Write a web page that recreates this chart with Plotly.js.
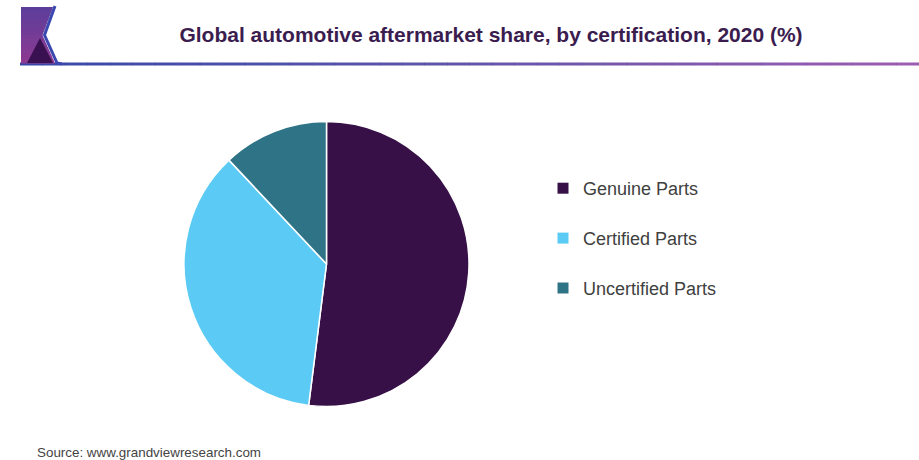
<!DOCTYPE html>
<html>
<head>
<meta charset="utf-8">
<script src="https://cdn.plot.ly/plotly-3.0.1.min.js"></script>
<style>html,body{margin:0;padding:0;background:#fff;}#chart{width:919px;height:460px;}</style>
</head>
<body>
<div id="chart"></div>
<script>
// ---- data ----
var categories = ["Genuine Parts", "Certified Parts", "Uncertified Parts"];
var shares = [52, 36, 12];
var sliceColors = ["#361046", "#5bcbf6", "#2e7486"];
var chartTitle = "Global automotive aftermarket share, by certification, 2020 (%)";
var sourceText = "Source: www.grandviewresearch.com";

var W = 919, H = 460;
function px(x){ return x / W; }
function py(y){ return 1 - y / H; }
function hex2rgb(h){ return [parseInt(h.substr(1,2),16),parseInt(h.substr(3,2),16),parseInt(h.substr(5,2),16)]; }
function mix(a,b,t){ var A=hex2rgb(a),B=hex2rgb(b); return 'rgb('+A.map(function(v,i){return Math.round(v+(B[i]-v)*t);}).join(',')+')'; }

var shapes = [];
// header gradient line
var stops = [[20,"#3848a8"],[420,"#5c54a8"],[919,"#9c5cb2"]];
var nSeg = 40;
for (var i=0;i<nSeg;i++){
  var x0 = 20 + (919-20)*i/nSeg, x1 = 20 + (919-20)*(i+1)/nSeg, xm=(x0+x1)/2;
  var c;
  if (xm < stops[1][0]) c = mix(stops[0][1], stops[1][1], (xm-stops[0][0])/(stops[1][0]-stops[0][0]));
  else c = mix(stops[1][1], stops[2][1], (xm-stops[1][0])/(stops[2][0]-stops[1][0]));
  shapes.push({type:'rect', xref:'paper', yref:'paper', x0:px(x0), x1:px(x1+0.5), y0:py(65.5), y1:py(62.5), line:{width:0}, fillcolor:c, layer:'above'});
}
// logo purple gradient strips
function rightEdge(y){ if (y<=35) return 53 + (42.5-53)*(y-7)/(35-7); return 42.5 + (55-42.5)*(y-35)/(63-35); }
var nStrip = 14;
for (var k=0;k<nStrip;k++){
  var ya = 7 + (63-7)*k/nStrip, yb = 7 + (63-7)*(k+1)/nStrip;
  var col = mix("#5a3e9a", "#8e3a92", (k+0.5)/nStrip);
  var path = 'M'+px(21)+','+py(ya)+' L'+px(rightEdge(ya))+','+py(ya)+' L'+(ya<35&&yb>35?px(42.5)+','+py(35)+' L':'')+px(rightEdge(yb))+','+py(yb+0.4)+' L'+px(21)+','+py(yb+0.4)+' Z';
  shapes.push({type:'path', xref:'paper', yref:'paper', path:path, fillcolor:col, line:{width:0}, layer:'above'});
}
// dark triangle
shapes.push({type:'path', xref:'paper', yref:'paper', path:'M'+px(27)+','+py(63)+' L'+px(40)+','+py(38)+' L'+px(53)+','+py(63)+' Z', fillcolor:'#3a1150', line:{width:0}, layer:'above'});
// blue chevron
shapes.push({type:'path', xref:'paper', yref:'paper', path:'M'+px(55)+','+py(6)+' L'+px(44.5)+','+py(35)+' L'+px(57)+','+py(63)+' L'+px(62)+','+py(64), fillcolor:'rgba(0,0,0,0)', line:{color:'#3a48b0', width:3}, layer:'above'});

var traces = [{
  type: 'pie',
  labels: categories,
  values: shares,
  marker: {colors: sliceColors, line: {color: '#ffffff', width: 1.5}},
  sort: false,
  direction: 'clockwise',
  rotation: 0,
  textinfo: 'none',
  hoverinfo: 'label+percent',
  showlegend: false,
  domain: {x: [px(184), px(469)], y: [py(406.5), py(121.5)]}
}];
// legend entries built from the same arrays
categories.forEach(function(cat, i){
  traces.push({
    type: 'scatter', mode: 'markers', x: [null], y: [null],
    name: cat, legendgroup: 'g'+i,
    marker: {symbol: 'square', size: 11, color: sliceColors[i]},
    hoverinfo: 'skip'
  });
});

var layout = {
  width: W, height: H,
  margin: {l:0, r:0, t:0, b:0},
  paper_bgcolor: '#ffffff', plot_bgcolor: '#ffffff',
  xaxis: {visible: false}, yaxis: {visible: false},
  title: {text: '<b>'+chartTitle+'</b>', x: px(491), xanchor: 'center', y: py(35), yanchor: 'middle', yref: 'container', xref:'container',
          font: {family: 'Liberation Sans, Arial, sans-serif', size: 21, color: '#3b1c4f'}},
  showlegend: true,
  legend: {x: px(543), xanchor: 'left', y: py(170), yanchor: 'top', traceorder: 'grouped', tracegroupgap: 23.5,
           font: {family: 'Liberation Sans, Arial, sans-serif', size: 18, color: '#404040'}, bgcolor: 'rgba(0,0,0,0)'},
  annotations: [{text: sourceText, xref: 'paper', yref: 'paper', x: px(35), y: py(452), xanchor: 'left', yanchor: 'middle', showarrow: false,
                 font: {family: 'Liberation Sans, Arial, sans-serif', size: 13.4, color: '#444444'}}],
  shapes: shapes
};
Plotly.newPlot('chart', traces, layout, {displayModeBar: false, staticPlot: true});
</script>
</body>
</html>
